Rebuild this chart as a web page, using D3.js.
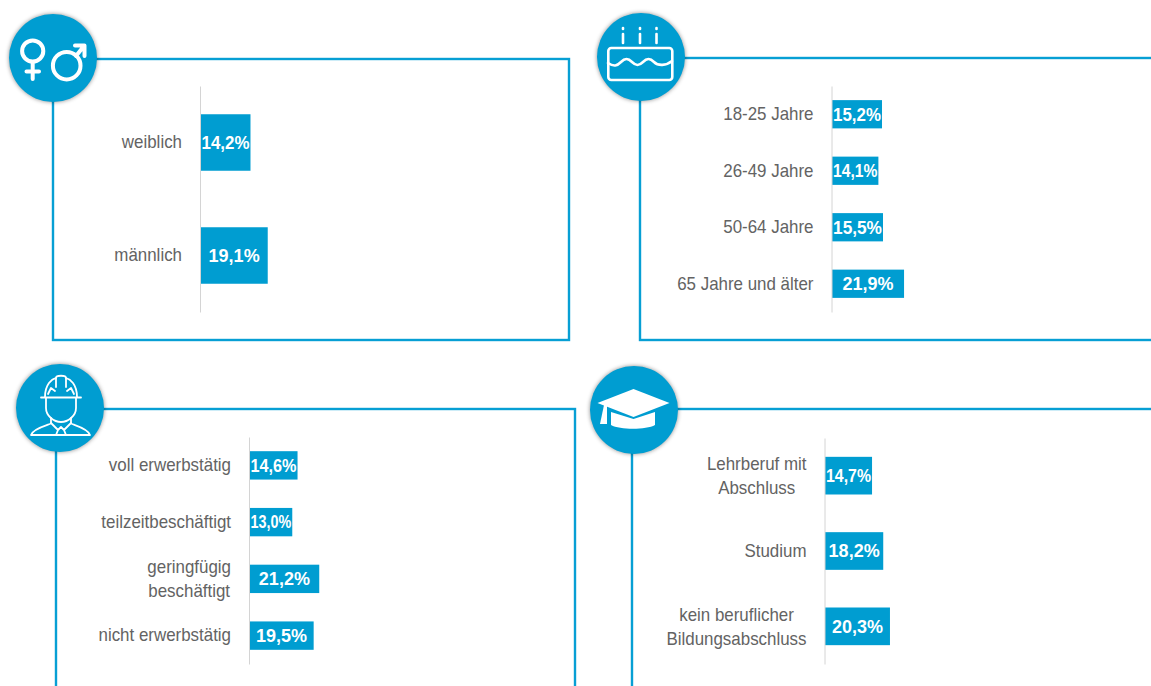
<html>
<head>
  <meta charset="utf-8">
  <style>
    body {
      margin: 0;
      background: #ffffff;
    }

    svg {
      display: block;
    }

    .frame {
      fill: none;
      stroke: #079fd4;
      stroke-width: 2.4px;
    }

    .badge {
      fill: #009dd1;
      filter: drop-shadow(0 0 2px rgba(0, 0, 0, 0.45));
    }

    .icon {
      fill: none;
      stroke: #ffffff;
      stroke-linecap: round;
      stroke-linejoin: round;
    }

    .icon .solid {
      fill: #ffffff;
      stroke: none;
    }

    .axis text {
      font-family: "Liberation Sans", sans-serif;
      font-size: 18px;
      fill: #636363;
    }

    .bar {
      fill: #009dd1;
    }

    .value {
      font-family: "Liberation Sans", sans-serif;
      font-size: 18px;
      font-weight: bold;
      fill: #ffffff;
      text-anchor: middle;
    }
  </style>
</head>

<body>
  <div id="my_dataviz"></div>

  <script src="https://d3js.org/d3.v7.min.js"></script>
  <script>
    // chart values
    var genderLabels = ["weiblich", "männlich"];
    var genderValues = [14.2, 19.1];

    var ageLabels = ["18-25 Jahre", "26-49 Jahre", "50-64 Jahre", "65 Jahre und älter"];
    var ageValues = [15.2, 14.1, 15.5, 21.9];

    var jobLabels = ["voll erwerbstätig", "teilzeitbeschäftigt", "geringfügig\nbeschäftigt", "nicht erwerbstätig"];
    var jobValues = [14.6, 13.0, 21.2, 19.5];

    var eduLabels = ["Lehrberuf mit\nAbschluss", "Studium", "kein beruflicher\nBildungsabschluss"];
    var eduValues = [14.7, 18.2, 20.3];

    var width = 1151,
        height = 686,
        badgeRadius = 44,
        labelGap = 18,
        labelSqueeze = 0.94; // no narrow font installed, so the labels get squeezed

    var svg = d3.select("#my_dataviz")
        .append("svg")
        .attr("width", width)
        .attr("height", height);

    var percent = function (v) { return v.toFixed(1).replace(".", ",") + "%"; };

    // layout of the four boxes
    var panels = [
      { labels: genderLabels, values: genderValues, left: 53, top: 59, right: 569, bottom: 340,
        badge: [53, 58], axisX: 200, y0: 86, y1: 312, perPercent: 3.52, icon: drawGender },
      { labels: ageLabels, values: ageValues, left: 640, top: 58, right: 1160, bottom: 340,
        badge: [641, 57], axisX: 831.5, y0: 86, y1: 312, perPercent: 3.29, icon: drawCake },
      { labels: jobLabels, values: jobValues, left: 56, top: 409, right: 575, bottom: 700,
        badge: [60, 408], axisX: 249, y0: 437, y1: 664, perPercent: 3.29, icon: drawWorker },
      { labels: eduLabels, values: eduValues, left: 632, top: 409, right: 1160, bottom: 700,
        badge: [634, 410], axisX: 824.5, y0: 438, y1: 664, perPercent: 3.2, icon: drawCap }
    ];

    panels.forEach(function (p) {
      svg.append("rect")
        .attr("class", "frame")
        .attr("x", p.left)
        .attr("y", p.top)
        .attr("width", p.right - p.left)
        .attr("height", p.bottom - p.top);

      var badge = svg.append("g")
        .attr("transform", "translate(" + p.badge[0] + "," + p.badge[1] + ")");

      badge.append("circle")
        .attr("class", "badge")
        .attr("r", badgeRadius);

      p.icon(badge.append("g").attr("class", "icon"));

      var y = d3.scaleBand()
        .domain(p.labels)
        .range([p.y0, p.y1])
        .padding(0.5)
        .paddingOuter(0.25);

      var x = d3.scaleLinear()
        .domain([0, 25])
        .range([p.axisX, p.axisX + 25 * p.perPercent]);

      var rows = p.labels.map(function (label, i) {
        return { label: label, value: p.values[i] };
      });

      svg.append("g")
        .selectAll("rect")
        .data(rows)
        .enter().append("rect")
        .attr("class", "bar")
        .attr("x", x(0) + 0.5)
        .attr("y", function (d) { return y(d.label); })
        .attr("width", function (d) { return x(d.value) - x(0); })
        .attr("height", y.bandwidth());

      svg.append("g")
        .selectAll("text")
        .data(rows)
        .enter().append("text")
        .attr("class", "value")
        .attr("dy", "0.35em")
        .text(function (d) { return percent(d.value); })
        .attr("transform", function (d) {
          // value labels get tight inside the short bars
          var barWidth = x(d.value) - x(0);
          var natural = this.getComputedTextLength();
          var k = Math.min(1, (barWidth - 2) / natural);
          return "translate(" + (x(0) + barWidth / 2 + 0.5) + "," + (y(d.label) + y.bandwidth() / 2) + ") scale(" + k + ",1)";
        });

      var axis = svg.append("g")
        .attr("class", "axis")
        .attr("transform", "translate(" + p.axisX + ",0)")
        .call(d3.axisLeft(y).tickSize(0).tickPadding(labelGap));

      axis.select(".domain").attr("stroke", "#d4d4d4");

      axis.selectAll(".tick text").each(setLabel);
    });

    // two line labels sit centred on each other, the block stays right aligned
    function setLabel(d) {
      var text = d3.select(this)
        .attr("x", 0)
        .attr("transform", "translate(" + (-labelGap) + ",0) scale(" + labelSqueeze + ",1)");

      var lines = d.split("\n");
      if (lines.length < 2) return;

      text.text(null).attr("dy", null);
      var spans = lines.map(function (line, i) {
        return text.append("tspan")
          .attr("dy", i == 0 ? "-0.32em" : "1.35em")
          .text(line);
      });
      var widest = d3.max(spans, function (s) { return s.node().getComputedTextLength(); });
      spans.forEach(function (s) {
        s.attr("x", -widest / 2).attr("text-anchor", "middle");
      });
    }

    function drawGender(g) {
      g.attr("stroke-width", 4);
      g.append("circle").attr("cx", -20.3).attr("cy", -7).attr("r", 10.6);
      g.append("path").attr("d", "M-20.3 5V21M-26.5 13.5H-14");
      g.append("circle").attr("cx", 13.7).attr("cy", 7.7).attr("r", 13.8);
      g.append("path").attr("d", "M23 -2L31 -12M22 -12.5H31.5V-2");
    }

    function drawCake(g) {
      g.attr("stroke-width", 2.6);
      g.append("rect").attr("x", -32.7).attr("y", -9).attr("width", 64).attr("height", 32).attr("rx", 3);
      g.append("path").attr("d", "M-33 6C-27 10 -24 9 -20 5C-16 1 -13 1 -9 5C-5 9 -2 9 2 5C6 1 9 1 13 5C17 9 25 9 31 4");
      [-18, -1, 15.5].forEach(function (cx) {
        g.append("path").attr("d", "M" + cx + " -23V-14");
        g.append("path").attr("d", "M" + cx + " -29V-28");
      });
    }

    function drawWorker(g) {
      g.attr("stroke-width", 1.8);
      g.append("path").attr("d", "M-19 -10.5H21");
      g.append("path").attr("d", "M-15 -11C-15 -24 -8 -29 -4 -30C-4 -33 6 -33 6 -30C10 -29 17 -24 17 -11");
      g.append("path").attr("d", "M-4 -30V-21M6 -30V-21M-12 -14L-9 -20L-5 -17M14 -14L11 -20L7 -17");
      g.append("path").attr("d", "M-14 -10V0C-14 8 -6 14 1 14C8 14 16 8 16 0V-10");
      g.append("path").attr("d", "M-9 10V15C-9 17 -26 19 -29 27V27H30C27 19 11 17 11 15V10");
      g.append("path").attr("d", "M-9 15L-2 22L1 19L4 22L11 15M-2 22L-4 27M4 22L6 27");
    }

    function drawCap(g) {
      g.append("path").attr("class", "solid").attr("d", "M-36.5 -7L-0.5 -21L35.5 -7L-0.5 7Z");
      g.append("path").attr("class", "solid").attr("d", "M-23 2L-0.5 9L21 2V15C12 20 -14 20 -23 15Z");
      g.append("path").attr("class", "solid").attr("d", "M-30 -5L-27 -5L-27 14L-34 14Z");
    }
  </script>
</body>
</html>
